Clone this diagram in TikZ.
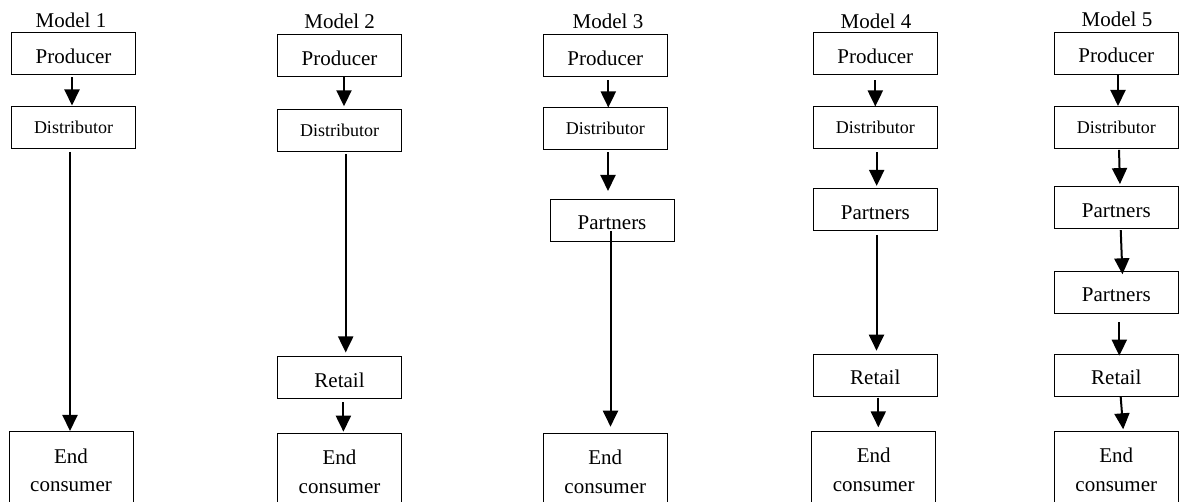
\documentclass[tikz,border=0pt]{standalone}
\usepackage{fontspec}
\setmainfont{Liberation Serif}
\usetikzlibrary{arrows.meta}
\tikzset{
  box/.style={draw, line width=1pt, minimum width=124pt, minimum height=42pt,
    inner sep=0pt, font=\fontsize{21}{27}\selectfont, text height=20pt, text depth=1pt},
  dbox/.style={box, font=\fontsize{18}{22}\selectfont, text height=13pt, text depth=1pt},
  ebox/.style={draw, line width=1pt, minimum width=124pt, inner xsep=0pt, inner ysep=17pt,
    anchor=north, align=center, font=\fontsize{21}{28.3}\selectfont},
  title/.style={anchor=base, inner sep=0pt, font=\fontsize{21}{25}\selectfont},
  arr/.style={line width=2pt, -{Triangle[width=15pt,length=16pt]}},
}
\begin{document}
\begin{tikzpicture}[x=1pt, y=-1pt]
\useasboundingbox (0,0) rectangle (1181,502);

% ---- Model 1
\node[title] (t1) at (71,27.5) {Model 1};
\node[box]  (p1) at (73.5,54)  {Producer};
\node[dbox] (d1) at (73.5,127.5) {Distributor};
\node[ebox] (e1) at (71,431) {End\\consumer};
\draw[arr, shorten <=2pt, shorten >=0.5pt] ([xshift=-1.5pt]p1.south) -- ([xshift=-1.5pt]d1.north);
\draw[arr, shorten <=3pt] ([xshift=-3.5pt]d1.south) -- ([xshift=-1pt]e1.north);

% ---- Model 2
\node[title] (t2) at (339.7,29) {Model 2};
\node[box]  (p2) at (339.5,56)  {Producer};
\node[dbox] (d2) at (339.5,130.3) {Distributor};
\node[box]  (r2) at (339.5,378) {Retail};
\node[ebox] (e2) at (339.5,432.7) {End\\consumer};
\draw[arr, shorten >=2.5pt] ([xshift=4.5pt]p2.south) -- ([xshift=4.5pt]d2.north);
\draw[arr, shorten <=2pt, shorten >=4pt] ([xshift=6.2pt]d2.south) -- ([xshift=6.2pt]r2.north);
\draw[arr, shorten <=2.7pt, shorten >=1pt] ([xshift=3.9pt]r2.south) -- ([xshift=3.9pt]e2.north);

% ---- Model 3
\node[title] (t3) at (608,28.5) {Model 3};
\node[box]  (p3) at (605.3,56)  {Producer};
\node[dbox] (d3) at (605.3,129) {Distributor};
\node[box]  (a3) at (612,220.5) {Partners};
\node[ebox] (e3) at (605.3,432.7) {End\\consumer};
\draw[arr, shorten <=3pt] ([xshift=3pt]p3.south) -- ([xshift=3pt]d3.north);
\draw[arr, shorten <=1.7pt, shorten >=8pt] ([xshift=2.7pt]d3.south) -- ([xshift=-4pt]a3.north);
\draw[arr, shorten <=-11pt, shorten >=6pt] ([xshift=-1.5pt]a3.south) -- ([xshift=5.2pt]e3.north);

% ---- Model 4
\node[title] (t4) at (876,28.3) {Model 4};
\node[box]  (p4) at (875.3,54)  {Producer};
\node[dbox] (d4) at (875.3,128) {Distributor};
\node[box]  (a4) at (875.3,210) {Partners};
\node[box]  (r4) at (875.3,375.5) {Retail};
\node[ebox] (e4) at (873.7,430.7) {End\\consumer};
\draw[arr, shorten <=5pt] (p4.south) -- (d4.north);
\draw[arr, shorten <=2.7pt, shorten >=2.6pt] ([xshift=1.4pt]d4.south) -- ([xshift=1.4pt]a4.north);
\draw[arr, shorten <=3.3pt, shorten >=3.3pt] ([xshift=1.2pt]a4.south) -- ([xshift=1.2pt]r4.north);
\draw[arr, shorten <=0.6pt, shorten >=3.4pt] ([xshift=3pt]r4.south) -- ([xshift=4.6pt]e4.north);

% ---- Model 5
\node[title] (t5) at (1117,27) {Model 5};
\node[box]  (p5) at (1116.3,53.5)  {Producer};
\node[dbox] (d5) at (1116.3,127.5) {Distributor};
\node[box]  (a5) at (1116.3,208) {Partners};
\node[box]  (b5) at (1116.3,292.5) {Partners};
\node[box]  (r5) at (1116.3,375.5) {Retail};
\node[ebox] (e5) at (1116.3,430.7) {End\\consumer};
\draw[arr] ([xshift=1.7pt]p5.south) -- ([xshift=1.7pt]d5.north);
\draw[arr, shorten <=0.8pt, shorten >=2.4pt] ([xshift=2.7pt]d5.south) -- ([xshift=3.7pt]a5.north);
\draw[arr, shorten <=0.7pt, shorten >=-3.3pt] ([xshift=4.4pt]a5.south) -- ([xshift=6pt]b5.north);
\draw[arr, shorten <=8.4pt, shorten >=-1.7pt] ([xshift=3pt]b5.south) -- ([xshift=3pt]r5.north);
\draw[arr, shorten >=1.4pt] ([xshift=4.4pt]r5.south) -- ([xshift=7pt]e5.north);
\end{tikzpicture}
\end{document}
